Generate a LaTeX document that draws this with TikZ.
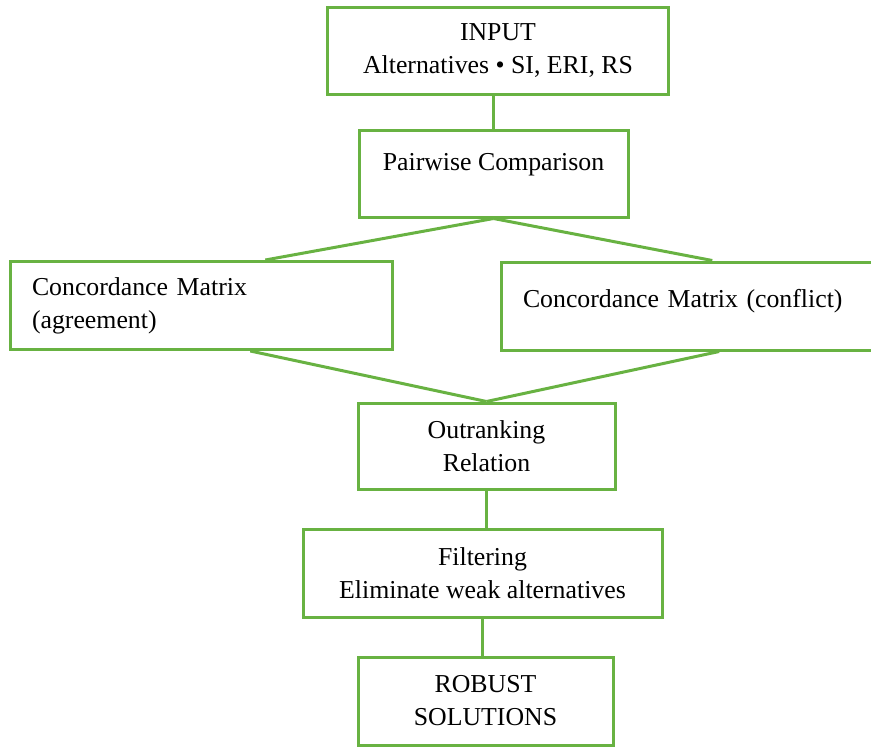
\documentclass[tikz,border=0pt]{standalone}
\usepackage{fontspec}
\setmainfont{Liberation Serif}
\usetikzlibrary{positioning,calc}
\definecolor{boxgreen}{RGB}{104,178,66}
\begin{document}
\begin{tikzpicture}[x=1pt,y=-1pt,
  b/.style={draw=boxgreen,line width=3pt,align=center,inner sep=0pt,font=\fontsize{25.8}{33}\selectfont},
  ln/.style={draw=boxgreen,line width=3pt}]
\clip (0,0) rectangle (871,748);
% top of the chain
\node[b,minimum width=341pt,minimum height=87pt] (inp) at (498,51) {INPUT\\Alternatives • SI, ERI, RS};
\node[b,minimum width=269pt,minimum height=87pt,text height=18pt,text depth=25pt] (pair) at (493.5,173.5) {Pairwise Comparison};
\draw[ln] (pair.north) -- (pair.north |- inp.south);
% the two matrices
\node[b,minimum width=382pt,minimum height=88pt,text width=338pt,align=left] (cma) at (201,305.5) {Concordance Matrix\\(agreement)};
\node[b,minimum width=379pt,minimum height=88pt,text width=335pt,align=left,text height=18pt,text depth=15pt] (cmc) at (690.5,306) {Concordance Matrix (conflict)};
% outranking and below
\node[b,minimum width=257pt,minimum height=86pt] (out) at (486.5,446) {Outranking\\Relation};
\node[b,minimum width=359pt,minimum height=88pt] (filt) at (482.5,573) {Filtering\\Eliminate weak alternatives};
\node[b,minimum width=255pt,minimum height=88pt] (rob) at (485.5,701) {ROBUST\\SOLUTIONS};
% split and join
\draw[ln] (pair.south) -- ($(cma.north west)!0.667!(cma.north east)$);
\draw[ln] (pair.south) -- ($(cmc.north west)!0.557!(cmc.north east)$);
\draw[ln] ($(cma.south west)!0.628!(cma.south east)$) -- (out.north);
\draw[ln] ($(cmc.south west)!0.575!(cmc.south east)$) -- (out.north);
\draw[ln] (out.south) -- (out.south |- filt.north);
\draw[ln] (filt.south) -- (filt.south |- rob.north);
\end{tikzpicture}
\end{document}
